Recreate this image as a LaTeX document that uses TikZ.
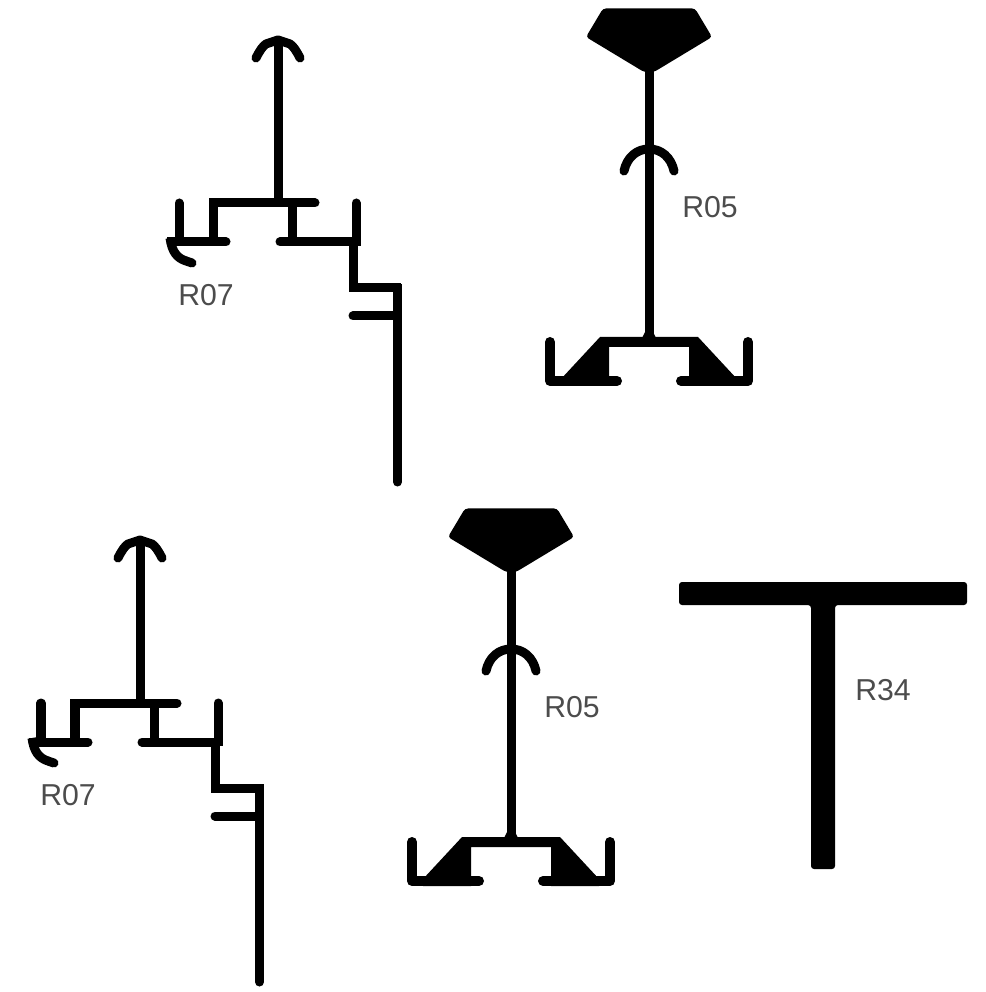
\documentclass[tikz,border=0pt]{standalone}
\usepackage{fontspec}
\setmainfont{Liberation Sans}
\usepackage{tikz}
\tikzstyle{stroke}= [line width=0.09cm, line cap=round, line join=round]
\tikzstyle{flat}= [line width=0.09cm, line cap=butt]
\tikzstyle{web}= [line width=0.1cm, line cap=round, line join=round]
\tikzstyle{lab}= [text=black!70, font=\fontsize{8.6pt}{10pt}\selectfont, inner sep=0pt]
\tikzset{
	pics/rseven/.style={code={
		\draw[stroke] (256,58) .. controls (260,50) and (263,46) .. (266,44) -- (278,40) -- (290,44) .. controls (293,46) and (296,50) .. (300,58);
		\draw[flat] (278,38) -- (278,203);
		\draw[stroke] (315,203) -- (240,203);
		\draw[flat] (240,203) -- (209,203);
		\draw[flat] (213,199) -- (213,242);
		\draw[flat] (292,203) -- (292,242);
		\draw[stroke] (179,203) -- (179,236);
		\draw[flat] (179,230) -- (179,242);
		\draw[flat] (167,242) -- (200,242);
		\draw[stroke] (200,242) -- (226,242);
		\draw[flat] (170,238) .. controls (172,252) and (177,258) .. (186,261);
		\draw[stroke] (186,261) -- (192,263);
		\draw[stroke] (280,242) -- (340,242);
		\draw[flat] (340,242) -- (358,242);
		\draw[stroke] (356,203) -- (356,230);
		\draw[flat] (356,225) -- (356,246);
		\draw[flat] (353,242) -- (353,292);
		\draw[flat] (349,288) -- (401,288);
		\draw[stroke] (353,316) -- (390,316);
		\draw[flat] (390,316) -- (397,316);
		\draw[stroke] (397.5,300) -- (397.5,482);
		\draw[flat] (397.5,284) -- (397.5,310);
		\node[lab] (-name) at (206,295) {R07};
	}},
	pics/rfive/.style={code={
		\fill[rounded corners=0.03cm] (603,8.5) -- (695,8.5) -- (712,37) -- (654,72) -- (644,72) -- (586,37) -- cycle;
		\draw[flat] (649,65) -- (649,342);
		\fill (642,338) -- (656,338) -- (653,332) -- (645,332) -- cycle;
		\draw[stroke] (624,171) .. controls (627,157) and (637,149) .. (649,149) .. controls (661,149) and (671,157) .. (674,171);
		\draw[web] (550,342) -- (550,381) -- (617,381);
		\draw[web] (748,342) -- (748,381) -- (681,381);
		\fill (600,337) -- (561,379) -- (561,386) -- (609,386) -- (609,347) -- (689,347) -- (689,386) -- (737,386) -- (737,379) -- (698,337) -- cycle;
		\node[lab] (-name) at (710,207) {R05};
	}}
}

\begin{document}
\begin{tikzpicture}[x=0.01cm, y=-0.01cm]
	\useasboundingbox (0,0) rectangle (985,992);
	\pic (seva) at (0,0) {rseven};
	\pic (fivea) at (0,0) {rfive};
	\pic (sevb) at (-138,500) {rseven};
	\pic (fiveb) at (-138,500) {rfive};
	% wide tee on the right
	\fill[rounded corners=0.03cm] (679,582) -- (967,582) -- (967,605) -- (835,605) -- (835,869) -- (811,869) -- (811,605) -- (679,605) -- cycle;
	\node[lab] (rtf) at (883,690) {R34};
\end{tikzpicture}
\end{document}
